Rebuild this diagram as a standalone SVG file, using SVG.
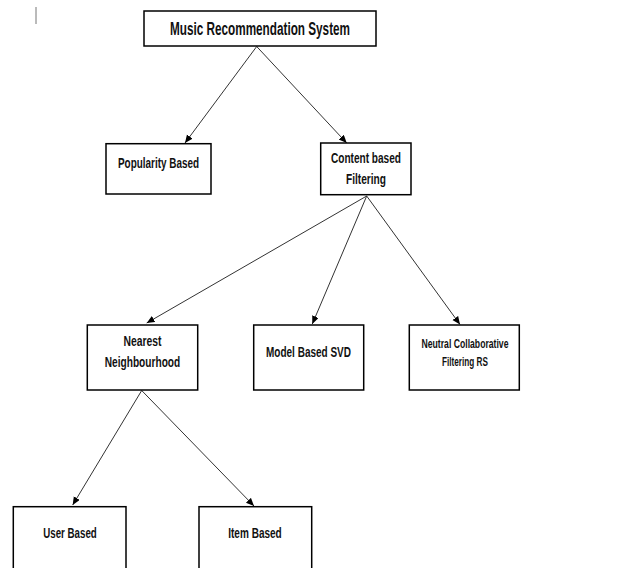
<svg xmlns="http://www.w3.org/2000/svg" width="621" height="568" viewBox="0 0 621 568">
  <style>
    .box { fill: #ffffff; stroke: #000000; stroke-width: 1.5; }
    .lbl { font-family: "Liberation Sans", Arial, sans-serif; font-weight: bold; fill: #111111; text-anchor: middle; }
    .edge { stroke: #333333; stroke-width: 1; fill: none; marker-end: url(#arrow); }
  </style>
  <defs>
    <marker id="arrow" markerUnits="userSpaceOnUse" markerWidth="9" markerHeight="8" refX="8" refY="3.5" orient="auto">
      <path d="M0,0 L8,3.5 L0,7 z" fill="#000000"/>
    </marker>
  </defs>
  <rect x="0" y="0" width="621" height="568" fill="#ffffff"/>

  <!-- caret mark at the top-left -->
  <line x1="36" y1="7" x2="36" y2="24" stroke="#777777" stroke-width="1"/>

  <g id="connectors">
    <line class="edge" x1="256.7" y1="46.5" x2="185" y2="143"/>
    <line class="edge" x1="256.7" y1="46.5" x2="346.7" y2="143"/>
    <line class="edge" x1="366.7" y1="196" x2="146.7" y2="323"/>
    <line class="edge" x1="366.7" y1="196" x2="312.3" y2="324"/>
    <line class="edge" x1="366.7" y1="196" x2="460" y2="324.5"/>
    <line class="edge" x1="141.7" y1="390.5" x2="72.7" y2="505"/>
    <line class="edge" x1="141.7" y1="390.5" x2="254" y2="506"/>
  </g>

  <g id="music-recommendation-system">
    <rect class="box" x="144" y="11" width="232" height="35"/>
    <text class="lbl" x="260" y="34.5" font-size="18" textLength="180" lengthAdjust="spacingAndGlyphs">Music Recommendation System</text>
  </g>

  <g id="popularity-based">
    <rect class="box" x="106" y="143.7" width="105" height="50.3"/>
    <text class="lbl" x="158.5" y="168" font-size="15" textLength="81" lengthAdjust="spacingAndGlyphs">Popularity Based</text>
  </g>

  <g id="content-based-filtering">
    <rect class="box" x="320.7" y="143" width="90.3" height="51.7"/>
    <text class="lbl" x="366" y="163" font-size="15" textLength="70" lengthAdjust="spacingAndGlyphs">Content based</text>
    <text class="lbl" x="366" y="184" font-size="15" textLength="40" lengthAdjust="spacingAndGlyphs">Filtering</text>
  </g>

  <g id="nearest-neighbourhood">
    <rect class="box" x="87.3" y="325" width="110.4" height="65"/>
    <text class="lbl" x="142.5" y="346" font-size="15" textLength="38" lengthAdjust="spacingAndGlyphs">Nearest</text>
    <text class="lbl" x="142.5" y="367" font-size="15" textLength="75.5" lengthAdjust="spacingAndGlyphs">Neighbourhood</text>
  </g>

  <g id="model-based-svd">
    <rect class="box" x="253.7" y="325" width="110" height="65"/>
    <text class="lbl" x="308.5" y="356.5" font-size="15" textLength="85" lengthAdjust="spacingAndGlyphs">Model Based SVD</text>
  </g>

  <g id="neutral-collaborative-filtering-rs">
    <rect class="box" x="409.3" y="325" width="110" height="65"/>
    <text class="lbl" x="465" y="347.5" font-size="12.5" textLength="87" lengthAdjust="spacingAndGlyphs">Neutral Collaborative</text>
    <text class="lbl" x="465" y="365.5" font-size="12.5" textLength="46" lengthAdjust="spacingAndGlyphs">Filtering RS</text>
  </g>

  <g id="user-based">
    <rect class="box" x="13.3" y="506.7" width="112.7" height="70"/>
    <text class="lbl" x="70" y="537.5" font-size="15" textLength="53.5" lengthAdjust="spacingAndGlyphs">User Based</text>
  </g>

  <g id="item-based">
    <rect class="box" x="199" y="506.7" width="112.7" height="70"/>
    <text class="lbl" x="255" y="537.5" font-size="15" textLength="53.5" lengthAdjust="spacingAndGlyphs">Item Based</text>
  </g>
</svg>
